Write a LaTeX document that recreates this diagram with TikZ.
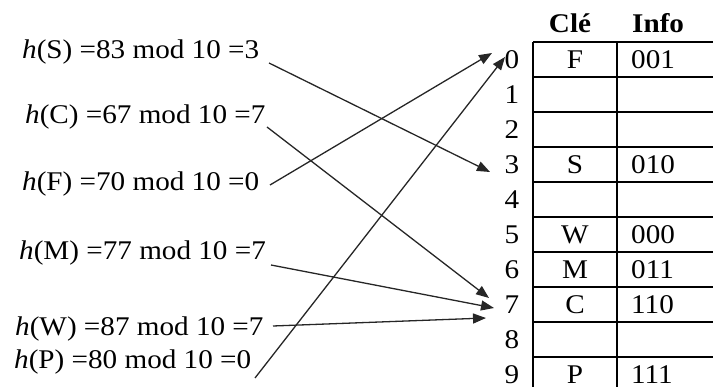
\documentclass[tikz,border=0pt]{standalone}
\usepackage{fontspec}
\setmainfont[FakeStretch=1.08]{Liberation Serif}
\usetikzlibrary{arrows.meta}
\begin{document}
\begin{tikzpicture}[x=1pt,y=-1pt,
  lbl/.style={anchor=west,inner sep=0pt,font=\fontsize{27}{30}\selectfont},
  idx/.style={inner sep=0pt,font=\fontsize{27}{30}\selectfont},
  cell/.style={inner sep=0pt,font=\fontsize{27}{30}\selectfont},
  hdr/.style={inner sep=0pt,font=\fontsize{27}{30}\selectfont\bfseries},
  grid/.style={line width=1.6pt,black},
  conn/.style={line width=1.3pt,black!85,-{Triangle[length=13pt,width=10pt]}}]
\useasboundingbox (0,0) rectangle (713,387);
% labels
\node[lbl] (lS) at (22,52)  {\textit{h}(S) =83 mod 10 =3};
\node[lbl] (lC) at (25,117) {\textit{h}(C) =67 mod 10 =7};
\node[lbl] (lF) at (22,184) {\textit{h}(F) =70 mod 10 =0};
\node[lbl] (lM) at (19,253) {\textit{h}(M) =77 mod 10 =7};
\node[lbl] (lW) at (15,329) {\textit{h}(W) =87 mod 10 =7};
\node[lbl] (lP) at (14,362) {\textit{h}(P) =80 mod 10 =0};
% table grid
\draw[grid] (533,42) -- (713,42);
\foreach \r in {1,...,9} {\draw[grid] (533,42+35*\r) -- (713,42+35*\r);}
\draw[grid] (533,42) -- (533,387);
\draw[grid] (617,42) -- (617,387);
% headers
\node[hdr] (hK) at (570,23) {Clé};
\node[hdr,anchor=west] (hI) at (632,23) {Info};
% indices
\foreach \r in {0,...,9} {\node[idx] (i\r) at (512,60+35*\r) {\r};}
% cells
\node[cell] (k0) at (575,60)  {F};  \node[cell,anchor=west] (v0) at (631,60)  {001};
\node[cell] (k3) at (575,165) {S};  \node[cell,anchor=west] (v3) at (631,165) {010};
\node[cell] (k5) at (575,235) {W};  \node[cell,anchor=west] (v5) at (631,235) {000};
\node[cell] (k6) at (575,270) {M};  \node[cell,anchor=west] (v6) at (631,270) {011};
\node[cell] (k7) at (575,305) {C};  \node[cell,anchor=west] (v7) at (631,305) {110};
\node[cell] (k9) at (575,375) {P};  \node[cell,anchor=west] (v9) at (631,375) {111};
% connector ends
\coordinate (sS) at (269,63);  \coordinate (eS) at (490,172);
\coordinate (sC) at (267,127); \coordinate (eC) at (489,298);
\coordinate (sF) at (270,185); \coordinate (eF) at (492,53);
\coordinate (sM) at (271,265); \coordinate (eM) at (494,308);
\coordinate (sW) at (273,326); \coordinate (eW) at (486,318);
\coordinate (sP) at (255,378); \coordinate (eP) at (505,57);
\draw[conn] (sS) -- (eS);
\draw[conn] (sC) -- (eC);
\draw[conn] (sF) -- (eF);
\draw[conn] (sM) -- (eM);
\draw[conn] (sW) -- (eW);
\draw[conn] (sP) -- (eP);
\end{tikzpicture}
\end{document}
